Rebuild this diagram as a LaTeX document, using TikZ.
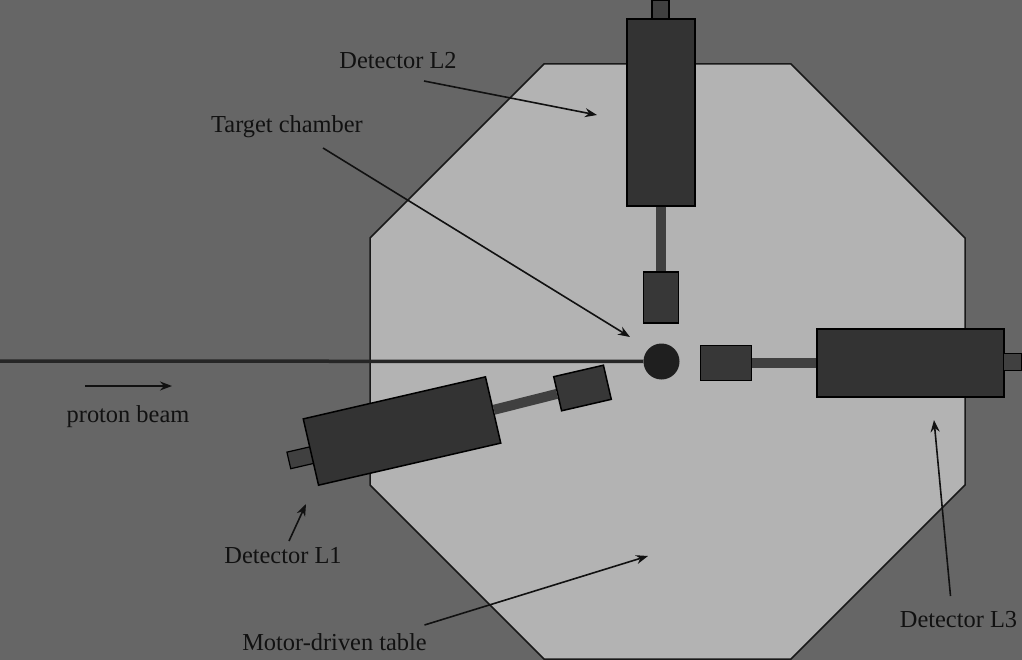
\documentclass[tikz,border=0pt]{standalone}
\usepackage{fontspec}
\setmainfont{Liberation Serif}
\usepackage{xcolor}
\usetikzlibrary{arrows.meta}
\definecolor{floorgrey}{HTML}{666666}
\definecolor{tablegrey}{HTML}{B3B3B3}
\definecolor{detgrey}{HTML}{333333}
\definecolor{stemgrey}{HTML}{404040}
\definecolor{inkgrey}{HTML}{111111}
\tikzset{
    detbody/.style={draw=black, line width=1.5pt, fill=detgrey, minimum width=187pt, minimum height=68pt, inner sep=0pt},
    detfront/.style={draw=black, line width=1.5pt, fill=detgrey!98!white, minimum width=51pt, minimum height=35pt, inner sep=0pt},
    detback/.style={draw=black, line width=1.2pt, fill=stemgrey, minimum width=18pt, minimum height=17pt, inner sep=0pt},
    detstem/.style={stemgrey, line width=10pt},
    tag/.style={text=inkgrey, inner sep=0pt, anchor=base, font=\fontsize{24.4}{29}\selectfont},
    pointer/.style={-{Stealth[length=12pt,width=9pt]}, line width=1.6pt, draw=inkgrey}
}
\begin{document}
\begin{tikzpicture}[x=1pt, y=-1pt]
    \useasboundingbox (0,0) rectangle (1022,660);
    \fill [floorgrey] (0,0) rectangle (1022,660);

    % table
    \draw [fill=tablegrey, draw=black!90, line width=1.5pt]
        (544,64) -- (791,64) -- (965,238) -- (965,485) -- (791,659) -- (544,659) -- (370,485) -- (370,238) -- cycle;

    % beam and chamber
    \coordinate (beamstart) at (0,361);
    \node (chamber) [circle, fill=black!88, minimum size=36pt, inner sep=0pt] at (661.5,361.5) {};
    \draw [line width=3.5pt, black!85] (beamstart) -- (chamber);

    % detector L1
    \node (frontL1) [detfront, rotate=13] at (582.5,388) {};
    \node (backL1) [detback, rotate=13, minimum width=26pt] at (301.5,457.5) {};
    \node (bodyL1) [detbody, rotate=13] at (402,431) {};
    \draw [detstem] (bodyL1.east) -- (frontL1.west);

    % detector L2
    \node (frontL2) [detfront, rotate=90] at (661,297.5) {};
    \node (bodyL2) [detbody, rotate=90] at (661,112.5) {};
    \node (backL2) [detback, rotate=90] at (660.5,9.5) {};
    \draw [detstem] (bodyL2.west) -- (frontL2.east);

    % detector L3
    \node (frontL3) [detfront] at (726,363) {};
    \node (bodyL3) [detbody] at (910.5,363) {};
    \node (backL3) [detback] at (1012.5,362.3) {};
    \draw [detstem] (frontL3.east) -- (bodyL3.west);

    % labels
    \node (tagL2) [tag] at (398,69) {Detector L2};
    \node (tagchamber) [tag] at (287,133) {Target chamber};
    \node (tagbeam) [tag] at (128,422) {proton beam};
    \node (tagL1) [tag] at (283,563) {Detector L1};
    \node (tagtable) [tag] at (334.5,650) {Motor-driven table};
    \node (tagL3) [tag] at (958.5,627) {Detector L3};

    \coordinate (tipL2) at (597,115);
    \coordinate (tipchamber) at (630,337);
    \coordinate (tipbeam) at (172,386);
    \coordinate (tipL1) at (306,504);
    \coordinate (tiptable) at (648,556);
    \coordinate (tipL3) at (934,420);

    \draw [pointer] ([xshift=26pt,yshift=-12pt]tagL2.base) -- (tipL2);
    \draw [pointer] ([xshift=36pt,yshift=-15pt]tagchamber.base) -- (tipchamber);
    \draw [pointer] ([xshift=-43pt,yshift=36pt]tagbeam.base) -- (tipbeam);
    \draw [pointer] ([xshift=6pt,yshift=22pt]tagL1.base) -- (tipL1);
    \draw [pointer] ([xshift=90pt,yshift=25pt]tagtable.base) -- (tiptable);
    \draw [pointer] ([xshift=-8pt,yshift=31pt]tagL3.base) -- (tipL3);
\end{tikzpicture}
\end{document}
